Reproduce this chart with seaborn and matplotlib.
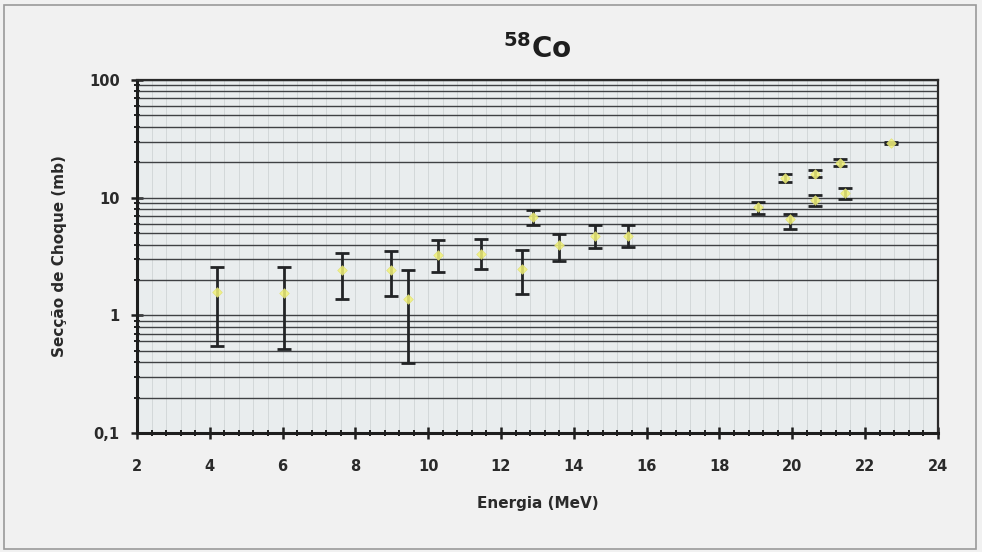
import numpy as np
import pandas as pd
import matplotlib
matplotlib.use("Agg")
import matplotlib.pyplot as plt
import matplotlib.ticker as mticker
from matplotlib.patches import Rectangle
import seaborn as sns

# Excitation function of 58Co: energy (MeV), cross section (mb) and error bounds
energy = [4.20, 6.05, 7.62, 8.98, 9.45, 10.28, 11.45, 12.57, 12.89, 13.58,
          14.58, 15.50, 19.07, 19.80, 19.94, 20.63, 20.63, 21.30, 21.45, 22.72]
sigma = [1.58, 1.55, 2.41, 2.41, 1.39, 3.24, 3.30, 2.50, 6.80, 3.93,
         4.69, 4.70, 8.30, 14.8, 6.63, 16.0, 9.47, 19.8, 10.9, 29.3]
sigma_hi = [2.57, 2.57, 3.41, 3.50, 2.41, 4.33, 4.48, 3.57, 7.80, 4.95,
            5.82, 5.82, 9.17, 16.0, 7.30, 17.1, 10.6, 21.5, 12.1, 30.0]
sigma_lo = [0.545, 0.517, 1.37, 1.46, 0.39, 2.33, 2.46, 1.53, 5.82, 2.90,
            3.76, 3.80, 7.30, 13.5, 5.45, 15.1, 8.50, 18.5, 9.80, 28.6]

x_ticks = [2, 4, 6, 8, 10, 12, 14, 16, 18, 20, 22, 24]
y_ticks = [0.1, 1, 10, 100]
y_tick_labels = ["0,1", "1", "10", "100"]

df = pd.DataFrame({"energy": energy, "sigma": sigma,
                   "hi": sigma_hi, "lo": sigma_lo})

sns.set_theme(style="ticks")
plt.rcParams["font.family"] = ["DejaVu Sans"]
plt.rcParams["mathtext.default"] = "bf"

fig = plt.figure(figsize=(9.82, 5.52), dpi=100, facecolor="#f1f1f1")
ax = fig.add_axes([0.1395, 0.2156, 0.8155, 0.6394])
ax.set_facecolor("#e9edee")

ax.set_yscale("log")
ax.set_xlim(2, 24)
ax.set_ylim(0.1, 100)

# horizontal grid on every decade and sub-decade value
for dec in [0.1, 1, 10]:
    for m in range(1, 10):
        ax.axhline(dec * m, color="#3f4144", lw=1.0, zorder=1)
ax.axhline(100, color="#3f4144", lw=1.0, zorder=1)
# faint vertical grid
for xv in np.arange(2, 24.01, 0.4):
    ax.axvline(xv, color="#cfd4d6", lw=0.6, zorder=0.5)

yerr = [df["sigma"] - df["lo"], df["hi"] - df["sigma"]]
ax.errorbar(df["energy"], df["sigma"], yerr=yerr, fmt="none",
            ecolor="#222426", elinewidth=2.0, capsize=5.0, capthick=2.0,
            zorder=3)
sns.scatterplot(data=df, x="energy", y="sigma", ax=ax, marker="D", s=24,
                color="#f2f27a", edgecolor="#e0e070", linewidth=0.5,
                alpha=0.85, zorder=4, legend=False)

ax.set_xticks(x_ticks)
ax.xaxis.set_minor_locator(mticker.MultipleLocator(0.4))
ax.set_yticks(y_ticks)
ax.set_yticklabels(y_tick_labels)
ax.yaxis.set_minor_locator(mticker.LogLocator(base=10, subs=np.arange(2, 10)))
ax.yaxis.set_minor_formatter(mticker.NullFormatter())

ax.tick_params(axis="both", which="major", direction="inout", length=9,
               width=1.8, color="#1e1e1e", labelsize=10.5)
ax.tick_params(axis="x", which="major", pad=14)
ax.tick_params(axis="y", which="major", pad=8)
ax.tick_params(axis="both", which="minor", direction="inout", length=5,
               width=1.4, color="#1e1e1e")
for lab in ax.get_xticklabels() + ax.get_yticklabels():
    lab.set_fontweight("bold")
    lab.set_color("#2a2a2a")

for side in ["left", "bottom"]:
    ax.spines[side].set_linewidth(2.2)
    ax.spines[side].set_color("#1e1e1e")
for side in ["top", "right"]:
    ax.spines[side].set_linewidth(1.6)
    ax.spines[side].set_color("#2a2a2a")

ax.set_xlabel("Energia (MeV)", fontsize=11, fontweight="bold",
              color="#2a2a2a", labelpad=16)
ax.set_ylabel("Secção de Choque (mb)", fontsize=11, fontweight="bold",
              color="#2a2a2a", labelpad=16)
ax.set_title(r"$^{58}$Co", fontsize=20, fontweight="bold",
             color="#1e1e1e", pad=16)

# thin frame around the figure
fig.patches.append(Rectangle((0.004, 0.006), 0.99, 0.985,
                             transform=fig.transFigure, fill=False,
                             edgecolor="#9a9a9a", lw=1.2))

fig.savefig("out.png", dpi=100, facecolor=fig.get_facecolor())
